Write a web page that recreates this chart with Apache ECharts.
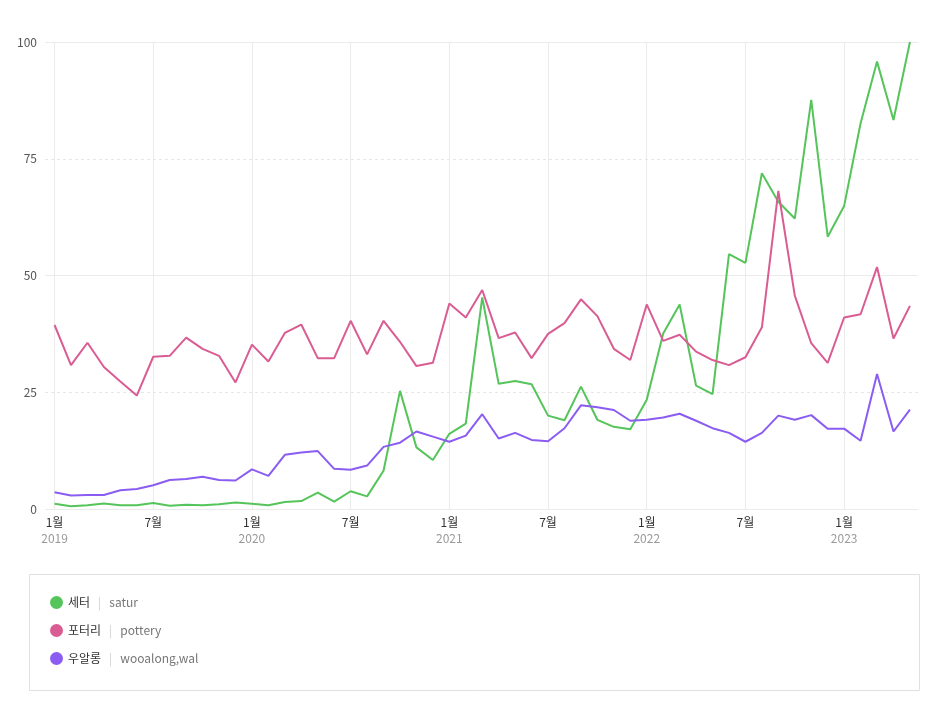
<!DOCTYPE html>
<html>
<head>
<meta charset="utf-8">
<script src="https://cdn.jsdelivr.net/npm/echarts@6/dist/echarts.min.js"></script>
<style>
html,body{margin:0;padding:0;background:#fff;}
#chart{width:947px;height:701px;}
</style>
</head>
<body>
<div id="chart"></div>
<script>
const months = [
 '2019-01','2019-02','2019-03','2019-04','2019-05','2019-06','2019-07','2019-08','2019-09','2019-10','2019-11','2019-12',
 '2020-01','2020-02','2020-03','2020-04','2020-05','2020-06','2020-07','2020-08','2020-09','2020-10','2020-11','2020-12',
 '2021-01','2021-02','2021-03','2021-04','2021-05','2021-06','2021-07','2021-08','2021-09','2021-10','2021-11','2021-12',
 '2022-01','2022-02','2022-03','2022-04','2022-05','2022-06','2022-07','2022-08','2022-09','2022-10','2022-11','2022-12',
 '2023-01','2023-02','2023-03','2023-04','2023-05'
];
const tickMonths = [0, 6, 12, 18, 24, 30, 36, 42, 48];
const yTicks = [0, 25, 50, 75, 100];

const seriesNames = ['세터', '포터리', '우알롱'];
const seriesKeywords = ['satur', 'pottery', 'wooalong,wal'];
const seriesColors = ['#55c45a', '#d95c93', '#8a5cf2'];

const satur = [
 1.1,0.6,0.8,1.2,0.8,0.8,1.3,0.7,0.9,0.8,1.0,1.4,
 1.1,0.8,1.5,1.7,3.5,1.6,3.8,2.7,8.2,25.3,13.2,10.5,
 16.1,18.3,45.3,26.8,27.4,26.7,20.0,19.0,26.2,19.1,17.6,17.1,
 23.4,37.6,43.8,26.4,24.6,54.6,52.7,71.9,65.8,62.2,87.6,58.3,
 64.9,82.6,95.8,83.3,100
];
const pottery = [
 39.4,30.8,35.6,30.4,27.3,24.3,32.6,32.8,36.7,34.3,32.8,27.1,
 35.2,31.6,37.7,39.5,32.3,32.3,40.3,33.1,40.3,35.8,30.6,31.3,
 44.0,41.0,46.9,36.6,37.8,32.3,37.5,39.8,44.9,41.3,34.3,31.9,
 43.8,36.0,37.3,33.7,31.9,30.8,32.5,38.9,68.1,45.7,35.5,31.3,
 41.0,41.7,51.8,36.5,43.5
];
const wooalong = [
 3.6,2.9,3.0,3.0,4.0,4.3,5.1,6.2,6.4,6.9,6.2,6.1,
 8.5,7.1,11.6,12.1,12.4,8.6,8.4,9.3,13.3,14.2,16.6,15.5,
 14.4,15.7,20.3,15.1,16.3,14.8,14.5,17.3,22.2,21.8,21.2,18.9,
 19.1,19.6,20.4,18.9,17.3,16.3,14.4,16.3,20.0,19.1,20.1,17.2,
 17.2,14.6,28.9,16.6,21.3
];
const seriesValues = [satur, pottery, wooalong];

const chart = echarts.init(document.getElementById('chart'), null, {renderer: 'canvas'});
const FONT = '"Noto Sans CJK KR", "Noto Sans", sans-serif';

const option = {
  animation: false,
  backgroundColor: '#fff',
  textStyle: {fontFamily: FONT},
  grid: {left: 45, right: 29, top: 42, bottom: 192, containLabel: false},
  xAxis: {
    type: 'value',
    min: -0.58,
    max: 52.49,
    axisLine: {show: false},
    axisTick: {show: false, customValues: tickMonths},
    axisLabel: {
      customValues: tickMonths,
      margin: 6,
      fontFamily: FONT,
      formatter: function (v) {
        const m = months[Math.round(v)];
        if (!m) return '';
        const parts = m.split('-');
        const mon = parseInt(parts[1], 10);
        if (mon === 1) return '{m|1월}\n{y|' + parts[0] + '}';
        return '{m|' + mon + '월}';
      },
      rich: {
        m: {color: '#333', fontSize: 12, lineHeight: 15, fontFamily: FONT},
        y: {color: '#999', fontSize: 12, lineHeight: 16, fontFamily: FONT}
      }
    },
    splitLine: {show: true, lineStyle: {color: '#ebebeb', width: 1, type: 'solid'}}
  },
  yAxis: [
    {
      type: 'value', min: 0, max: 100, interval: 25,
      axisLine: {show: false}, axisTick: {show: false},
      axisLabel: {color: '#555', fontSize: 12, margin: 8, fontFamily: FONT},
      splitLine: {show: true, lineStyle: {color: '#e6e6e6', width: 1, type: [3, 3]}}
    },
    {
      type: 'value', min: 0, max: 100, interval: 50, position: 'left',
      axisLine: {show: false}, axisTick: {show: false}, axisLabel: {show: false},
      splitLine: {show: true, lineStyle: {color: '#ebebeb', width: 1, type: 'solid'}}
    }
  ],
  legend: {
    orient: 'vertical',
    left: 50,
    top: 596,
    padding: 0,
    itemGap: 15,
    itemWidth: 13,
    itemHeight: 13,
    icon: 'circle',
    selectedMode: false,
    data: seriesNames,
    formatter: function (name) {
      const i = seriesNames.indexOf(name);
      return '{a|' + name + '}{b||}{c|' + seriesKeywords[i] + '}';
    },
    textStyle: {
      fontFamily: FONT,
      rich: {
        a: {color: '#333', fontSize: 12, fontFamily: FONT},
        b: {color: '#d0d0d0', fontSize: 12, padding: [0, 8, 0, 8], fontFamily: FONT},
        c: {color: '#777', fontSize: 12, fontFamily: FONT}
      }
    }
  },
  graphic: [{
    type: 'rect',
    z: -10,
    shape: {x: 29.5, y: 574.5, width: 890, height: 116},
    style: {fill: 'none', stroke: '#e0e0e0', lineWidth: 1}
  }],
  series: seriesNames.map(function (name, i) {
    return {
      name: name,
      type: 'line',
      yAxisIndex: 0,
      showSymbol: false,
      symbol: 'none',
      smooth: false,
      color: seriesColors[i],
      lineStyle: {width: 2, color: seriesColors[i]},
      itemStyle: {color: seriesColors[i]},
      data: seriesValues[i].map(function (v, j) { return [j, v]; })
    };
  })
};
chart.setOption(option);
</script>
</body>
</html>
